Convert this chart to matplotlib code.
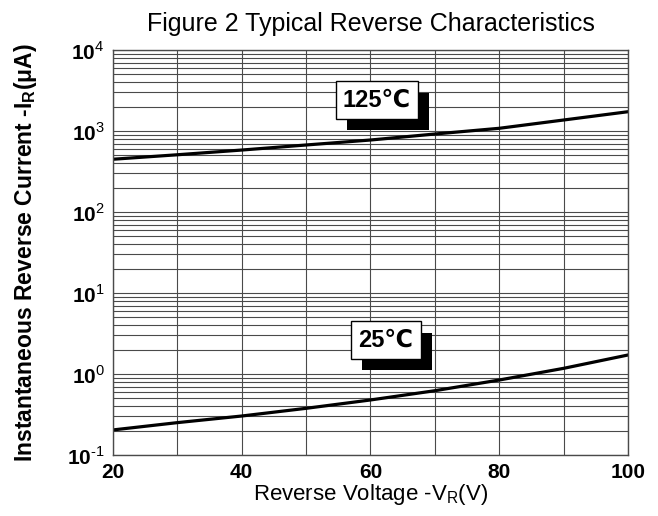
import matplotlib
matplotlib.use('Agg')
import matplotlib.pyplot as plt
import matplotlib.patheffects as pe
import numpy as np

plt.rcParams['font.family'] = ['Liberation Sans', 'DejaVu Sans']
plt.rcParams['mathtext.fontset'] = 'custom'
plt.rcParams['mathtext.rm'] = 'Liberation Sans'
plt.rcParams['mathtext.bf'] = 'Liberation Sans:bold'

# data
voltage = [20, 30, 40, 50, 60, 70, 80, 90, 100]
ir_125 = [448, 509, 582, 672, 774, 918, 1080, 1367, 1730]
ir_25 = [0.204, 0.251, 0.303, 0.377, 0.478, 0.622, 0.843, 1.175, 1.717]
x_ticks = [20, 40, 60, 80, 100]
y_exps = [-1, 0, 1, 2, 3, 4]

fig = plt.figure(figsize=(6.58, 5.16), dpi=100)
ax = fig.add_axes([0.1717, 0.1182, 0.7827, 0.7849])

ax.plot(voltage, ir_125, color='black', lw=2.3)
ax.plot(voltage, ir_25, color='black', lw=2.3)

ax.set_yscale('log')
ax.set_xlim(20, 100)
ax.set_ylim(0.1, 1e4)
ax.set_xticks(x_ticks)
ax.set_xticks(np.arange(20, 101, 10), minor=True)
ax.set_xticklabels([str(v) for v in x_ticks], fontsize=15, fontweight='bold')
ax.set_yticks([10.0 ** e for e in y_exps])
ax.set_yticklabels([r'$\mathbf{10}^{\mathrm{%s}}$' % (r'\text{-}1' if e < 0 else str(e))
                    for e in y_exps], fontsize=15)
ax.yaxis.set_minor_locator(matplotlib.ticker.LogLocator(base=10, subs=np.arange(2, 10)))
ax.yaxis.set_minor_formatter(matplotlib.ticker.NullFormatter())
ax.tick_params(which='both', length=0)
ax.tick_params(axis='x', pad=6)
ax.tick_params(axis='y', pad=6)

ax.grid(True, which='both', color='#4a4a4a', lw=0.8)
for s in ax.spines.values():
    s.set_color('#4a4a4a')
    s.set_linewidth(1.0)

ax.set_title('Figure 2 Typical Reverse Characteristics', fontsize=18, pad=14)
ax.set_xlabel('Reverse Voltage -V$_\\mathregular{R}$(V)', fontsize=16, labelpad=0)
ax.set_ylabel('Instantaneous Reverse Current -I$_\\mathregular{R}$(μA)',
              fontsize=16.5, fontweight='bold', labelpad=20)

shadow = [pe.SimplePatchShadow(offset=(8, -8), shadow_rgbFace='black', alpha=1), pe.Normal()]
for txt, xv, yv in [('125℃', 61.0, 2415), ('25℃', 62.4, 2.63)]:
    t = ax.text(xv, yv, txt, fontsize=17, fontweight='bold', ha='center', va='center', zorder=5,
                bbox=dict(boxstyle='square,pad=0.3', fc='white', ec='black', lw=1))
    t.get_bbox_patch().set_path_effects(shadow)

fig.savefig('out.png', dpi=100)
